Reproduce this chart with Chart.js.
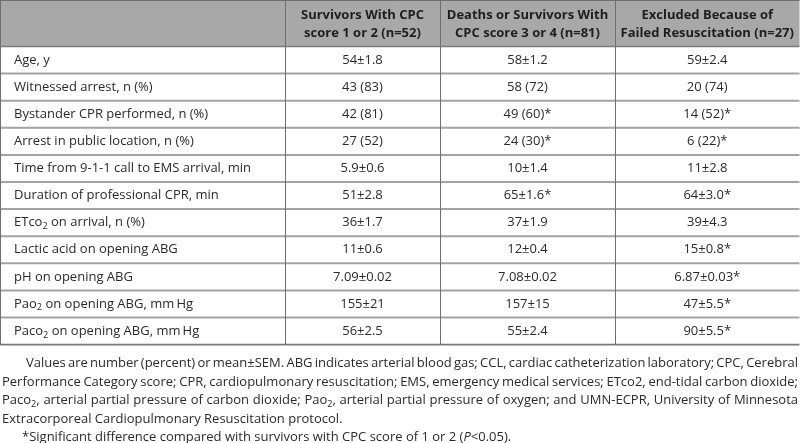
<!DOCTYPE html>
<html lang="en">
<head>
<meta charset="UTF-8">
<title>Characteristics by outcome</title>
<script src="https://cdn.jsdelivr.net/npm/chart.js"></script>
<style>
html,body{margin:0;padding:0;background:#fff;}
canvas{display:block;}
</style>
</head>
<body>
<canvas id="tbl" width="800" height="443"></canvas>
<script>
/* ---------- data ---------- */
const COLUMN_HEADERS=[
    ["",""],
    ["Survivors With CPC","score 1 or 2 (n=52)"],
    ["Deaths or Survivors With","CPC score 3 or 4 (n=81)"],
    ["Excluded Because of","Failed Resuscitation (n=27)"]
];
const ROW_LABELS=[
    "Age, y",
    "Witnessed arrest, n (%)",
    "Bystander CPR performed, n (%)",
    "Arrest in public location, n (%)",
    "Time from 9-1-1 call to EMS arrival, min",
    "Duration of professional CPR, min",
    "ETco~2~ on arrival, n (%)",
    "Lactic acid on opening ABG",
    "pH on opening ABG",
    "Pao~2~ on opening ABG, mm\u2009Hg",
    "Paco~2~ on opening ABG, mm\u2009Hg"
];
const SURVIVORS=["54±1.8","43 (83)","42 (81)","27 (52)","5.9±0.6","51±2.8","36±1.7","11±0.6","7.09±0.02","155±21","56±2.5"];
const DEATHS   =["58±1.2","58 (72)","49 (60)*","24 (30)*","10±1.4","65±1.6*","37±1.9","12±0.4","7.08±0.02","157±15","55±2.4"];
const EXCLUDED =["59±2.4","20 (74)","14 (52)*","6 (22)*","11±2.8","64±3.0*","39±4.3","15±0.8*","6.87±0.03*","47±5.5*","90±5.5*"];
const FOOTNOTE=[
    "Values are number (percent) or mean±SEM. ABG indicates arterial blood gas; CCL, cardiac catheterization laboratory; CPC, Cerebral",
    "Performance Category score; CPR, cardiopulmonary resuscitation; EMS, emergency medical services; ETco2, end-tidal carbon dioxide;",
    "Paco~2~, arterial partial pressure of carbon dioxide; Pao~2~, arterial partial pressure of oxygen; and UMN-ECPR, University of Minnesota",
    "Extracorporeal Cardiopulmonary Resuscitation protocol.",
    "*Significant difference compared with survivors with CPC score of 1 or 2 (|P|<0.05)."
];

/* ---------- layout ---------- */
const COL_EDGES=[0,285,440,615,799.5];
const HEADER_H=46.5, ROW_H=27.1;
const FONT="'Open Sans',sans-serif";
const FOOT_Y=[363,382,400.5,419,437.5];
const FOOT_INDENT=[26,2,2,2,22];
const FOOT_JUSTIFY=[true,true,true,false,false];

/* ---------- rich text helpers ---------- */
function parseRich(s){
    return s.split(/(~[^~]+~|\|[^|]+\|)/).filter(t=>t).map(t=>{
        if(t[0]==="~") return {t:t.slice(1,-1),sub:true};
        if(t[0]==="|") return {t:t.slice(1,-1),it:true};
        return {t};
    });
}
function segFont(seg,size,weight){
    const sz=seg.sub?size*0.7:size;
    return `${seg.it?"italic ":""}${weight} ${sz}px ${FONT}`;
}
function richWidth(ctx,s,size,weight){
    let w=0;
    parseRich(s).forEach(seg=>{ctx.font=segFont(seg,size,weight);w+=ctx.measureText(seg.t).width;});
    return w;
}
function drawRich(ctx,s,x,y,size,weight){
    parseRich(s).forEach(seg=>{
        ctx.font=segFont(seg,size,weight);
        ctx.fillText(seg.t,x,seg.sub?y+size*0.3:y);
        x+=ctx.measureText(seg.t).width;
    });
}

/* ---------- table plugin ---------- */
const tablePlugin={
    id:"tablePlugin",
    afterDraw(chart){
        const ctx=chart.ctx, sx=chart.scales.x, sy=chart.scales.y;
        const px=v=>sx.getPixelForValue(v), py=v=>sy.getPixelForValue(v);
        const cols=[ROW_LABELS,SURVIVORS,DEATHS,EXCLUDED];
        const nRows=ROW_LABELS.length;
        const bottom=HEADER_H+nRows*ROW_H;
        ctx.save();

        // header background
        ctx.fillStyle="#a8a8a8";
        ctx.fillRect(px(0),py(0),px(COL_EDGES[4])-px(0),py(HEADER_H)-py(0));

        // row lines
        ctx.strokeStyle="#a3a3a3";ctx.lineWidth=2;
        for(let r=1;r<nRows;r++){
            const y=py(HEADER_H+r*ROW_H);
            ctx.beginPath();ctx.moveTo(px(0),y);ctx.lineTo(px(COL_EDGES[4]),y);ctx.stroke();
        }
        ctx.strokeStyle="#7a7a7a";ctx.lineWidth=1.6;
        [HEADER_H,bottom].forEach(v=>{
            ctx.beginPath();ctx.moveTo(px(0),py(v));ctx.lineTo(px(COL_EDGES[4]),py(v));ctx.stroke();
        });
        // vertical lines
        ctx.strokeStyle="#6e6e6e";ctx.lineWidth=1;
        COL_EDGES.forEach((e,i)=>{
            const x=Math.round(px(e))+(i===0?0.5:0.5);
            ctx.beginPath();ctx.moveTo(x,py(0));ctx.lineTo(x,py(bottom));ctx.stroke();
        });
        ctx.beginPath();ctx.moveTo(px(0),py(0)+0.5);ctx.lineTo(px(COL_EDGES[4]),py(0)+0.5);ctx.stroke();

        // header text
        ctx.fillStyle="#1e1e1e";ctx.textBaseline="middle";
        COLUMN_HEADERS.forEach((h,c)=>{
            const cx=(COL_EDGES[c]+COL_EDGES[c+1])/2;
            h.forEach((line,k)=>{
                if(!line) return;
                const w=richWidth(ctx,line,13,"bold");
                drawRich(ctx,line,px(cx)-w/2,py(15+k*18),13,"bold");
            });
        });

        // body text
        ctx.fillStyle="#2a2a2a";
        for(let r=0;r<nRows;r++){
            const cy=py(HEADER_H+(r+0.5)*ROW_H);
            drawRich(ctx,ROW_LABELS[r],px(14),cy,13,"normal");
            for(let c=1;c<4;c++){
                const cx=(COL_EDGES[c]+COL_EDGES[c+1])/2;
                const w=richWidth(ctx,cols[c][r],13,"normal");
                drawRich(ctx,cols[c][r],px(cx)-w/2,cy,13,"normal");
            }
        }

        // footnote, justified
        FOOTNOTE.forEach((line,i)=>{
            const words=line.split(" ");
            const x0=px(FOOT_INDENT[i]), x1=px(798);
            const ws=words.map(w=>richWidth(ctx,w,13,"normal"));
            const space=richWidth(ctx," ",13,"normal");
            const total=ws.reduce((a,b)=>a+b,0);
            const gap=FOOT_JUSTIFY[i]?(x1-x0-total)/(words.length-1):space;
            let x=x0;
            words.forEach((w,k)=>{
                drawRich(ctx,w,x,py(FOOT_Y[i]),13,"normal");
                x+=ws[k]+gap;
            });
        });
        ctx.restore();
    }
};

new Chart(document.getElementById("tbl"),{
    type:"scatter",
    data:{datasets:[]},
    options:{
        responsive:false,
        animation:false,
        layout:{padding:0},
        scales:{
            x:{type:"linear",min:0,max:800,display:false},
            y:{type:"linear",min:0,max:443,reverse:true,display:false}
        },
        plugins:{legend:{display:false},tooltip:{enabled:false}}
    },
    plugins:[tablePlugin]
});
</script>
</body>
</html>
